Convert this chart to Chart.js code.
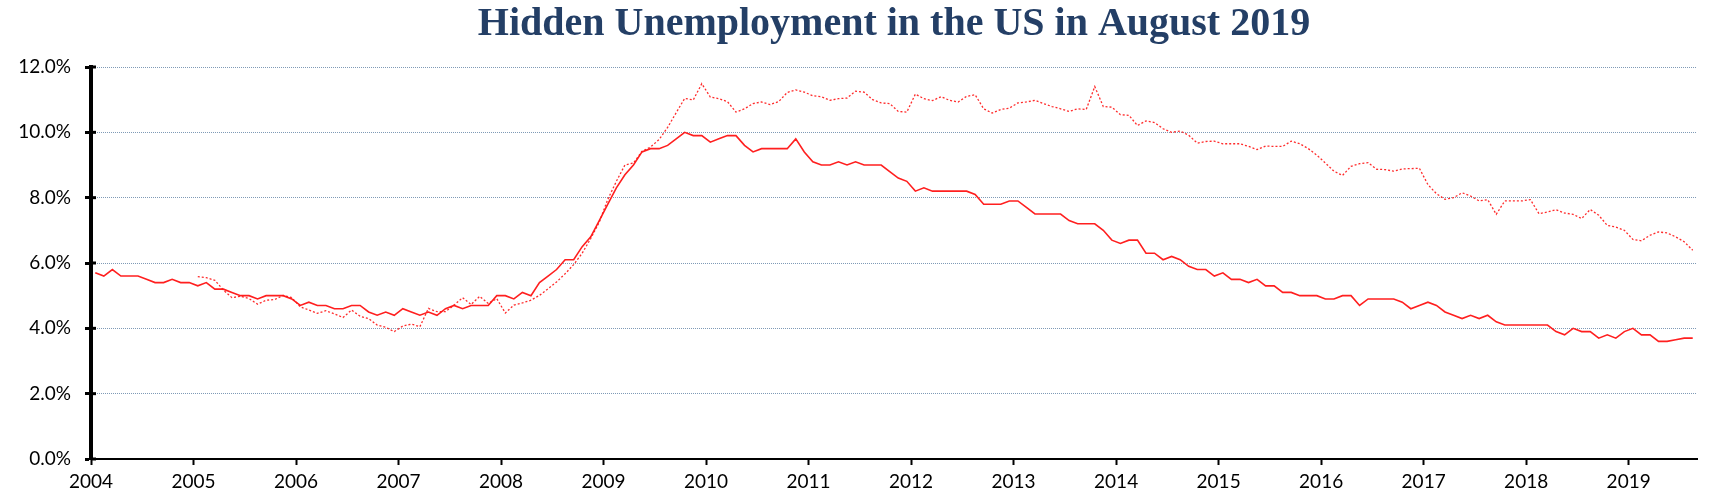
<!DOCTYPE html>
<html>
<head>
<meta charset="utf-8">
<title>Hidden Unemployment in the US</title>
<script src="https://cdn.jsdelivr.net/npm/chart.js@4/dist/chart.umd.min.js"></script>
<style>
  html, body { margin: 0; padding: 0; background: #fff; }
  canvas { display: block; }
</style>
</head>
<body>
<canvas id="chart" width="1722" height="504"></canvas>
<script>
const yearLabels = ['2004', '2005', '2006', '2007', '2008', '2009', '2010', '2011',
  '2012', '2013', '2014', '2015', '2016', '2017', '2018', '2019'];

// official rate, monthly Jan 2004 - Aug 2019
const officialRate = [
  5.7, 5.6, 5.8, 5.6, 5.6, 5.6, 5.5, 5.4, 5.4, 5.5, 5.4, 5.4,
  5.3, 5.4, 5.2, 5.2, 5.1, 5.0, 5.0, 4.9, 5.0, 5.0, 5.0, 4.9,
  4.7, 4.8, 4.7, 4.7, 4.6, 4.6, 4.7, 4.7, 4.5, 4.4, 4.5, 4.4,
  4.6, 4.5, 4.4, 4.5, 4.4, 4.6, 4.7, 4.6, 4.7, 4.7, 4.7, 5.0,
  5.0, 4.9, 5.1, 5.0, 5.4, 5.6, 5.8, 6.1, 6.1, 6.5, 6.8, 7.3,
  7.8, 8.3, 8.7, 9.0, 9.4, 9.5, 9.5, 9.6, 9.8, 10.0, 9.9, 9.9,
  9.7, 9.8, 9.9, 9.9, 9.6, 9.4, 9.5, 9.5, 9.5, 9.5, 9.8, 9.4,
  9.1, 9.0, 9.0, 9.1, 9.0, 9.1, 9.0, 9.0, 9.0, 8.8, 8.6, 8.5,
  8.2, 8.3, 8.2, 8.2, 8.2, 8.2, 8.2, 8.1, 7.8, 7.8, 7.8, 7.9,
  7.9, 7.7, 7.5, 7.5, 7.5, 7.5, 7.3, 7.2, 7.2, 7.2, 7.0, 6.7,
  6.6, 6.7, 6.7, 6.3, 6.3, 6.1, 6.2, 6.1, 5.9, 5.8, 5.8, 5.6,
  5.7, 5.5, 5.5, 5.4, 5.5, 5.3, 5.3, 5.1, 5.1, 5.0, 5.0, 5.0,
  4.9, 4.9, 5.0, 5.0, 4.7, 4.9, 4.9, 4.9, 4.9, 4.8, 4.6, 4.7,
  4.8, 4.7, 4.5, 4.4, 4.3, 4.4, 4.3, 4.4, 4.2, 4.1, 4.1, 4.1,
  4.1, 4.1, 4.1, 3.9, 3.8, 4.0, 3.9, 3.9, 3.7, 3.8, 3.7, 3.9,
  4.0, 3.8, 3.8, 3.6, 3.6, 3.65, 3.7, 3.7
];

// hidden unemployment estimate, starts Jan 2005 (month 12)
const hiddenStart = 12;
const hiddenRate = [
  5.58, 5.55, 5.47, 5.17, 4.94, 4.98, 4.91, 4.74, 4.86, 4.88, 5.01, 4.94,
  4.66, 4.56, 4.46, 4.54, 4.44, 4.33, 4.56, 4.37, 4.30, 4.10, 4.03, 3.90,
  4.07, 4.13, 4.05, 4.61, 4.51, 4.51, 4.71, 4.94, 4.73, 4.98, 4.76, 4.91,
  4.47, 4.71, 4.78, 4.86, 5.01, 5.21, 5.42, 5.67, 5.95, 6.30, 6.75, 7.25,
  7.95, 8.50, 9.00, 9.06, 9.42, 9.55, 9.78, 10.15, 10.60, 11.04, 10.99, 11.49,
  11.08, 11.03, 10.94, 10.62, 10.72, 10.88, 10.93, 10.85, 10.94, 11.22, 11.30, 11.23,
  11.12, 11.09, 10.98, 11.03, 11.05, 11.26, 11.23, 11.00, 10.90, 10.88, 10.64, 10.62,
  11.17, 11.03, 10.97, 11.09, 10.98, 10.93, 11.10, 11.15, 10.72, 10.59, 10.70, 10.74,
  10.90, 10.93, 10.98, 10.88, 10.79, 10.72, 10.64, 10.72, 10.70, 11.40, 10.79, 10.77,
  10.54, 10.52, 10.21, 10.35, 10.30, 10.11, 10.00, 10.04, 9.91, 9.67, 9.72, 9.73,
  9.65, 9.65, 9.65, 9.57, 9.47, 9.58, 9.57, 9.57, 9.73, 9.65, 9.50, 9.30,
  9.06, 8.81, 8.68, 8.96, 9.04, 9.07, 8.87, 8.86, 8.81, 8.88, 8.89, 8.90,
  8.40, 8.12, 7.95, 8.00, 8.15, 8.05, 7.90, 7.94, 7.49, 7.90, 7.90, 7.90,
  7.94, 7.51, 7.56, 7.63, 7.53, 7.49, 7.36, 7.64, 7.46, 7.15, 7.10, 7.00,
  6.72, 6.68, 6.85, 6.95, 6.92, 6.80, 6.65, 6.39
];

const yTicks = [0, 2, 4, 6, 8, 10, 12];

const officialPoints = officialRate.map((v, i) => ({ x: i, y: v }));
const hiddenPoints = hiddenRate.map((v, i) => ({ x: i + hiddenStart, y: v }));

// Excel style: y ticks cross the axis, so add the short inner half
const crossTicks = {
  id: 'crossTicks',
  afterDraw(chart) {
    const y = chart.scales.y;
    const ctx = chart.ctx;
    ctx.save();
    ctx.strokeStyle = '#000';
    ctx.lineWidth = 3;
    y.ticks.forEach((t) => {
      const py = y.getPixelForValue(t.value);
      ctx.beginPath();
      ctx.moveTo(y.right, py);
      ctx.lineTo(y.right + 5, py);
      ctx.stroke();
    });
    ctx.restore();
  },
};

const tickFont = { family: 'Lato, "Liberation Sans", sans-serif', size: 19 };

new Chart(document.getElementById('chart').getContext('2d'), {
  type: 'line',
  data: {
    datasets: [
      {
        label: 'Hidden unemployment',
        data: hiddenPoints,
        borderColor: 'rgba(255, 20, 20, 0.9)',
        borderWidth: 1.3,
        borderDash: [2, 2],
        pointRadius: 0,
        tension: 0,
      },
      {
        label: 'Unemployment rate',
        data: officialPoints,
        borderColor: '#ff1f1f',
        borderWidth: 1.6,
        pointRadius: 0,
        tension: 0,
      },
    ],
  },
  options: {
    responsive: false,
    animation: false,
    layout: { padding: { left: 0, right: 25, top: 0, bottom: 0 } },
    plugins: {
      legend: { display: false },
      tooltip: { enabled: false },
      title: {
        display: true,
        fullSize: false,
        text: 'Hidden Unemployment in the US in August 2019',
        color: '#243f66',
        font: { family: '"Liberation Serif", "DejaVu Serif", serif', size: 40, weight: 'bold' },
        padding: { top: 1, bottom: 18 },
      },
    },
    scales: {
      x: {
        type: 'linear',
        min: -0.5,
        max: officialRate.length - 0.5,
        afterBuildTicks: (scale) => {
          scale.ticks = yearLabels.map((_, i) => ({ value: i * 12 - 0.5 }));
        },
        afterFit: (scale) => { scale.height = 45; },
        ticks: {
          autoSkip: false,
          maxRotation: 0,
          color: '#000',
          font: tickFont,
          padding: 5,
          callback: (value, index) => yearLabels[index],
        },
        grid: {
          drawOnChartArea: false,
          drawTicks: true,
          tickLength: 6,
          tickColor: '#000',
          tickWidth: 2,
        },
        border: { display: true, color: '#000', width: 2 },
      },
      y: {
        min: 0,
        max: 12,
        afterBuildTicks: (scale) => {
          scale.ticks = yTicks.map((v) => ({ value: v }));
        },
        afterFit: (scale) => { scale.width = 91; },
        ticks: {
          color: '#000',
          font: tickFont,
          padding: 14,
          callback: (value) => value.toFixed(1) + '%',
        },
        grid: {
          color: '#7f9ab6',
          lineWidth: 1,
          tickColor: '#000',
          tickWidth: 3,
          tickLength: 6,
        },
        border: { display: true, color: '#000', width: 4, dash: [1, 1] },
      },
    },
  },
  plugins: [crossTicks],
});
</script>
</body>
</html>
